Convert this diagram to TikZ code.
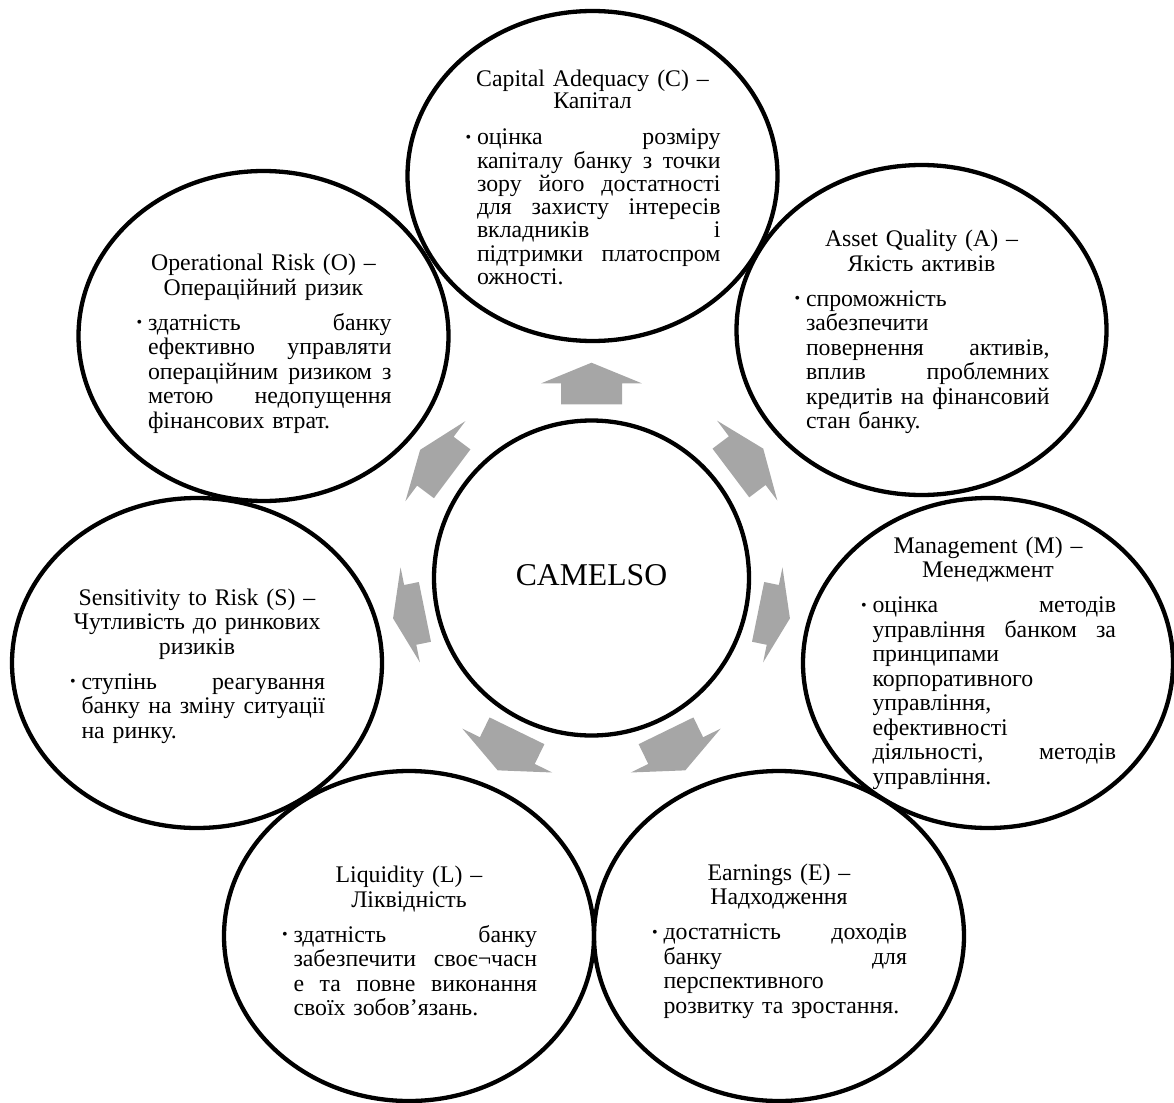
\documentclass[tikz,border=0pt]{standalone}
\usepackage{fontspec}
\setmainfont{Liberation Serif}
\usetikzlibrary{shapes.geometric}
\definecolor{arrowgray}{RGB}{166,166,166}
% justified line: interword spaces stretch to fill the line
\newcommand{\jl}[1]{\leavevmode\hbox to \linewidth{\frenchspacing\spaceskip=0.25em plus 1fil minus 0.05em\relax #1}}
% #1 heading baselineskip, #2 extra gap, #3 body baselineskip, #4 heading, #5 body
\newcommand{\camcell}[5]{{\centering\fontsize{23.8}{#1}\selectfont #4\par}\vspace{#2}\noindent\makebox[12.5pt][l]{\hspace{1pt}\raisebox{2.5pt}{\fontsize{16}{16}\selectfont\textbullet}}\parbox[t]{243.5pt}{\fontsize{23.8}{#3}\selectfont #5}}
\newcommand{\camarrow}[5]{%
  \fill[arrowfill, shift={(591.5,578)}, rotate=-#1] (-30.5,-#2) -- (-30.5,-#3) -- (-#5,-#3) -- (0,-#4) -- (#5,-#3) -- (30.5,-#3) -- (30.5,-#2) -- cycle;}
\begin{document}
\begin{tikzpicture}[x=1pt,y=-1pt,
  ringnode/.style={ellipse, draw, line width=4.3pt, minimum width=370pt, minimum height=330pt, inner sep=0pt},
  hub/.style={circle, draw, line width=4.3pt, minimum size=315pt, inner sep=0pt, font=\fontsize{31.7}{36}\selectfont},
  txt/.style={inner sep=0pt, text width=256pt, font=\fontsize{23.8}{24.5}\selectfont},
  arrowfill/.style={fill=arrowgray, draw=none}]
\useasboundingbox (0,0) rectangle (1174,1102);

% hub
\node[hub] (cam) at (591.5,578) {};
\node[font=\fontsize{31.7}{36}\selectfont, inner sep=0pt] (camtext) at (591.5,575) {CAMELSO};

% outer ellipses
\node[ringnode] (C) at (592.5,176) {};
\node[ringnode] (A) at (921.5,330) {};
\node[ringnode] (M) at (988,663) {};
\node[ringnode] (E) at (779,936) {};
\node[ringnode] (L) at (409,936) {};
\node[ringnode] (S) at (197,663) {};
\node[ringnode] (O) at (263.5,336) {};

% arrows
\camarrow{0}{173.7}{194.7}{215.3}{50.3}
\camarrow{53}{174.5}{195}{215}{50}
\camarrow{-53.2}{174}{195}{214}{50}
\camarrow{101.5}{170}{185}{202.5}{48.5}
\camarrow{-101.5}{170}{185}{202.5}{48.5}
\camarrow{154}{170}{192}{214}{50}
\camarrow{-154}{170}{192}{214}{50}

% texts
\node[txt] (Ct) at ([yshift=-1.5pt]C.center) {\camcell{22pt}{11.7pt}{23.3pt}{Capital Adequacy (C) –\\Капітал}{\jl{оцінка розміру}\\\jl{капіталу банку з точки}\\\jl{зору його достатності}\\\jl{для захисту інтересів}\\\jl{вкладників і}\\\jl{підтримки платоспром}\\ожності.}};
\node[txt] (At) at ([yshift=-2pt]A.center) {\camcell{24.5pt}{10.5pt}{24.5pt}{Asset Quality (A) –\\Якість активів}{спроможність\\забезпечити\\\jl{повернення активів,}\\\jl{вплив проблемних}\\\jl{кредитів на фінансовий}\\стан банку.}};
\node[txt] (Mt) at (M.center) {\camcell{24.5pt}{10.5pt}{24.5pt}{Management (M) –\\Менеджмент}{\jl{оцінка методів}\\\jl{управління банком за}\\принципами\\корпоративного\\управління,\\ефективності\\\jl{діяльності, методів}\\управління.}};
\node[txt] (Et) at ([yshift=-5pt]E.center) {\camcell{24.5pt}{10.5pt}{24.5pt}{Earnings (E) –\\Надходження}{\jl{достатність доходів}\\\jl{банку для}\\перспективного\\розвитку та зростання.}};
\node[txt] (Lt) at ([yshift=-5pt]L.center) {\camcell{24.5pt}{10.5pt}{24.5pt}{Liquidity (L) –\\Ліквідність}{\jl{здатність банку}\\\jl{забезпечити своє¬часн}\\\jl{е та повне виконання}\\своїх зобов’язань.}};
\node[txt] (St) at ([yshift=-3pt]S.center) {\camcell{24.5pt}{10.5pt}{24.5pt}{Sensitivity to Risk (S) –\\Чутливість до ринкових\\ризиків}{\jl{ступінь реагування}\\\jl{банку на зміну ситуації}\\на ринку.}};
\node[txt] (Ot) at ([yshift=-8pt]O.center) {\camcell{24.5pt}{10.5pt}{24.5pt}{Operational Risk (O) –\\Операційний ризик}{\jl{здатність банку}\\\jl{ефективно управляти}\\\jl{операційним ризиком з}\\\jl{метою недопущення}\\фінансових втрат.}};
\end{tikzpicture}
\end{document}
